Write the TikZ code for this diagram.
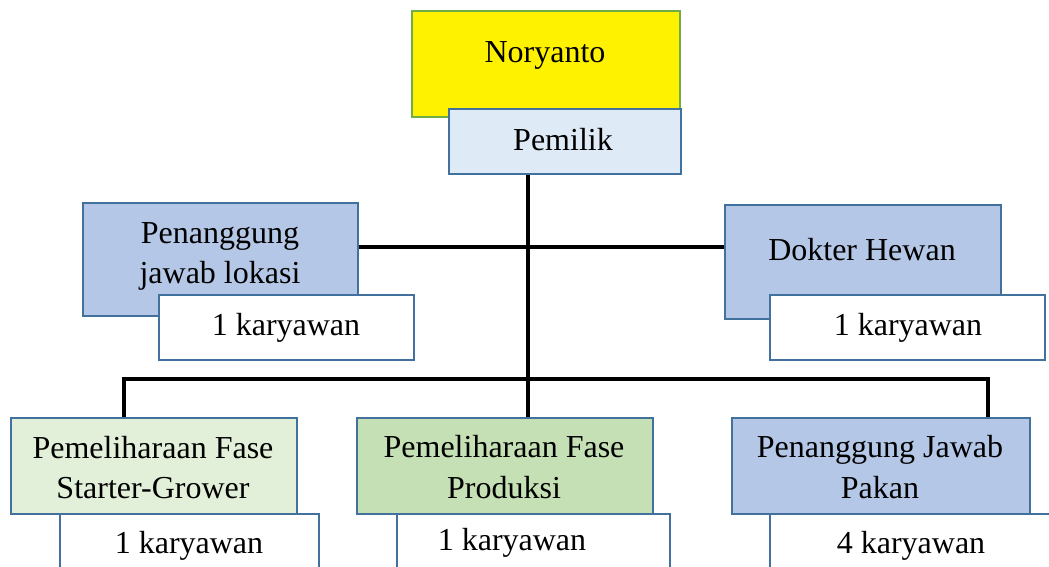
\documentclass[tikz,border=0pt]{standalone}
\usepackage{fontspec}
\setmainfont{Liberation Serif}
\definecolor{bordblue}{HTML}{41719C}
\definecolor{bordgreen}{HTML}{70AD47}
\definecolor{fillpale}{HTML}{DEEBF7}
\definecolor{fillblue}{HTML}{B4C7E7}
\definecolor{fillpalegreen}{HTML}{E2F0D9}
\definecolor{fillgreen}{HTML}{C5E0B4}
\begin{document}
\begin{tikzpicture}[x=1pt,y=-1pt,
  box/.style={draw=bordblue, line width=2pt, rectangle, inner sep=0pt, anchor=north west},
  txt/.style={font=\fontsize{32}{40}\selectfont, inner sep=0pt, anchor=base},
  conn/.style={draw=black, line width=3.5pt}]
\useasboundingbox (0,0) rectangle (1049,567);
\clip (0,0) rectangle (1049,567);
% top
\node[box, draw=bordgreen, fill=yellow, minimum width=268pt, minimum height=106pt] (nor) at (411,10) {};
\node[box, fill=fillpale, minimum width=232pt, minimum height=65pt] (pem) at (448,108) {};
\node[txt] (tnor) at (545,63) {Noryanto};
\node[txt] (tpem) at (563,150) {Pemilik};
% connectors
\coordinate (j1) at (528,247);
\coordinate (j2) at (528,379);
\coordinate (d1) at (124,379);
\coordinate (d3) at (988,379);
% middle row
\node[box, fill=fillblue, minimum width=275pt, minimum height=113pt] (lok) at (82,202) {};
\node[box, fill=white, minimum width=255pt, minimum height=65pt] (klok) at (158,294) {};
\node[txt] (tlok1) at (220,243) {Penanggung};
\node[txt] (tlok2) at (220,283) {jawab lokasi};
\node[txt] (tklok) at (286,335) {1 karyawan};
\node[box, fill=fillblue, minimum width=276pt, minimum height=114pt] (dok) at (724,204) {};
\node[box, fill=white, minimum width=275pt, minimum height=65pt] (kdok) at (769,294) {};
\node[txt] (tdok) at (862,260) {Dokter Hewan};
\node[txt] (tkdok) at (908,335) {1 karyawan};
% bottom row
\node[box, fill=fillpalegreen, minimum width=286pt, minimum height=96pt] (sg) at (10,417) {};
\node[box, fill=white, minimum width=259pt, minimum height=80pt] (ksg) at (59,513) {};
\node[txt] (tsg1) at (153,458) {Pemeliharaan Fase};
\node[txt] (tsg2) at (153,498) {Starter-Grower};
\node[txt] (tksg) at (189,553) {1 karyawan};
\node[box, fill=fillgreen, minimum width=296pt, minimum height=96pt] (pr) at (356,417) {};
\node[box, fill=white, minimum width=273pt, minimum height=80pt] (kpr) at (396,513) {};
\node[txt] (tpr1) at (504,457) {Pemeliharaan Fase};
\node[txt] (tpr2) at (504,498) {Produksi};
\node[txt] (tkpr) at (512,550) {1 karyawan};
\node[box, fill=fillblue, minimum width=298pt, minimum height=96pt] (pk) at (731,417) {};
\node[box, fill=white, minimum width=300pt, minimum height=80pt] (kpk) at (769,513) {};
\node[txt] (tpk1) at (880,457) {Penanggung Jawab};
\node[txt] (tpk2) at (880,498) {Pakan};
\node[txt] (tkpk) at (911,553) {4 karyawan};
% lines
\draw[conn] (pem.south -| j1) -- (j2);
\draw[conn] (lok.east |- j1) -- (dok.west |- j1);
\draw[conn] (d1 |- sg.north) -- (d1) -- (d3) -- (d3 |- pk.north);
\draw[conn] (j2) -- (j2 |- pr.north);
\end{tikzpicture}
\end{document}
